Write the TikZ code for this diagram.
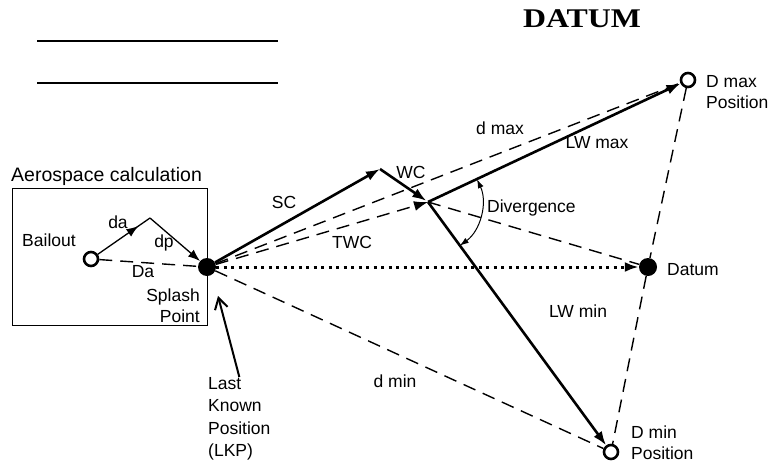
\documentclass[tikz,border=0pt]{standalone}
\usepackage{fontspec}
\setmainfont{Liberation Sans}
\newfontfamily\titlefont[FakeStretch=1.18]{Liberation Serif}
\usetikzlibrary{arrows.meta,decorations.markings}

\tikzset{
  vec/.style={line width=2.6pt, -{Latex[length=14pt,width=10pt]}},
  thinvec/.style={line width=1.3pt, -{Latex[length=12pt,width=9pt]}},
  drift/.style={line width=1.4pt, dash pattern=on 13pt off 8pt},
  spot/.style={circle, fill, minimum size=18pt, inner sep=0pt},
  ring/.style={circle, draw, line width=2.6pt, fill=white, minimum size=14pt, inner sep=0pt},
  lbl/.style={font=\fontsize{17.5}{21}\selectfont, inner sep=0pt},
  midarrow/.style={postaction={decorate}, decoration={markings,
    mark=at position 0.78 with {\arrow{Latex[length=12pt,width=9pt]}}}},
}

\begin{document}
\begin{tikzpicture}[x=1pt, y=-1pt]
    \useasboundingbox (0,0) rectangle (768,466);

    % Blank lines at the top of the page
    \draw[line width=1.5pt] (37,41) -- (278,41);
    \draw[line width=1.5pt] (37,83) -- (278,83);

    % Title
    \node[font=\titlefont\fontsize{27}{30}\selectfont\bfseries, inner sep=0pt] (title) at (582,19) {DATUM};

    % Aerospace calculation box
    \draw[line width=0.9pt] (12,188) rectangle (207,325);
    \node[lbl, font=\fontsize{19.5}{22}\selectfont, anchor=base west] (aero) at (11,181) {Aerospace calculation};

    % Positions
    \node[ring] (bail) at (91,259) {};
    \node[spot] (splash) at (207,267) {};
    \coordinate (apex) at (150,218);
    \coordinate (sc) at (380,169);
    \coordinate (twc) at (428,202);
    \node[ring] (dmax) at (688,80) {};
    \node[spot] (datum) at (648,267) {};
    \node[ring] (dmin) at (611,452) {};

    % Bailout to splash point
    \draw[line width=1.3pt, midarrow] (bail) -- (apex);
    \draw[thinvec] (apex) -- (splash);
    \draw[drift] (bail) -- (splash);

    % Drift lines
    \draw[drift] (splash) -- (dmax);
    \draw[drift, -{Latex[length=14pt,width=10pt]}] (splash) -- (twc);
    \draw[drift] (twc) -- (datum);
    \draw[drift] (splash) -- (dmin);
    \draw[drift] (dmax) -- (datum) -- (dmin);
    \draw[line width=3pt, dash pattern=on 3pt off 4.5pt, -{Latex[length=14pt,width=10pt]}] (splash) -- (datum);

    % Current and leeway vectors
    \draw[vec] (splash) -- (sc);
    \draw[vec, shorten >=2pt] (sc) -- (twc);
    \draw[vec] (twc) -- (dmax);
    \draw[vec] (twc) -- (dmin);

    % Divergence angle
    \draw[line width=1pt, {Latex[length=9pt,width=6pt]}-{Latex[length=9pt,width=6pt]}]
        ([shift={(-25:54)}]twc) arc[start angle=-25, end angle=54, radius=54];

    % Last known position pointer
    \coordinate (lkptip) at (218,296);
    \node[lbl, align=left, anchor=north west, font=\fontsize{17.5}{22.5}\selectfont] (lkp) at (208,377) {Last\\Known\\Position\\(LKP)};
    \draw[line width=2pt, -{Straight Barb[length=11pt,width=13pt]}] (lkp.north) -- (lkptip);

    % Labels
    \node[lbl] (bailtxt) at (49,240) {Bailout};
    \node[lbl] (datxt) at (118,222) {da};
    \node[lbl] (dptxt) at (164,243) {dp};
    \node[lbl] (Datxt) at (143,272) {Da};
    \node[lbl, align=right, anchor=east] (splashtxt) at (200,306) {Splash\\Point};
    \node[lbl] (sctxt) at (284,202) {SC};
    \node[lbl] (wctxt) at (411,172) {WC};
    \node[lbl] (twctxt) at (352,242) {TWC};
    \node[lbl] (dmaxtxt) at (500,128) {d max};
    \node[lbl] (lwmaxtxt) at (597,143) {LW max};
    \node[lbl, anchor=west] (divtxt) at (487,208) {Divergence};
    \node[lbl] (lwmintxt) at (578,311) {LW min};
    \node[lbl] (dmintxt) at (395,381) {d min};
    \node[lbl, anchor=west] (datumtxt) at (667,270) {Datum};
    \node[lbl, align=left, anchor=west] (dmaxpos) at (706,92) {D max\\Position};
    \node[lbl, align=left, anchor=west] (dminpos) at (631,443) {D min\\Position};

\end{tikzpicture}
\end{document}
